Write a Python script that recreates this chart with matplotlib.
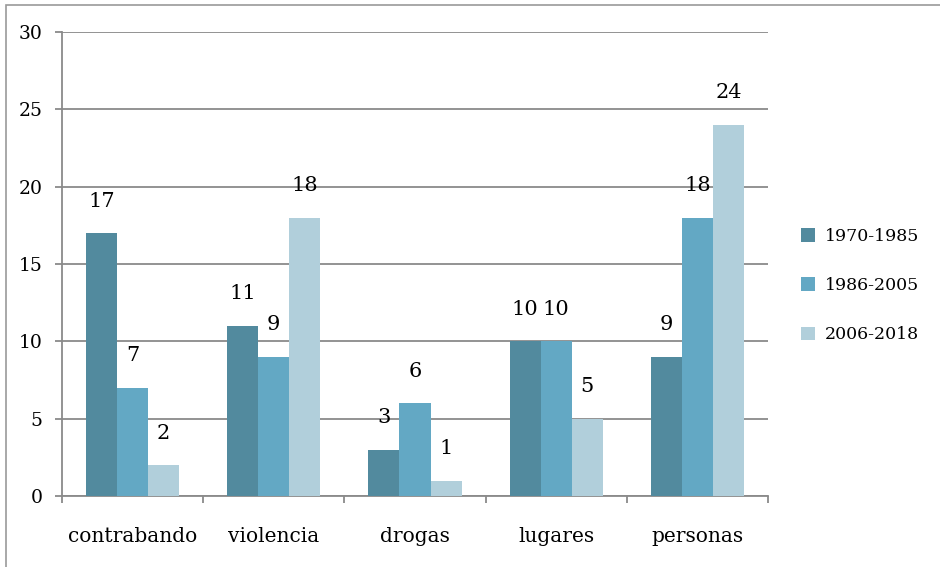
import matplotlib
matplotlib.use("Agg")
import matplotlib.pyplot as plt
from matplotlib.patches import Rectangle
import numpy as np

categories = ["contrabando", "violencia", "drogas", "lugares", "personas"]
series_names = ["1970-1985", "1986-2005", "2006-2018"]
s1970 = [17, 11, 3, 10, 9]
s1986 = [7, 9, 6, 10, 18]
s2006 = [2, 18, 1, 5, 24]
yticks = [0, 5, 10, 15, 20, 25, 30]

colors = ["#528A9E", "#63A8C4", "#B1CFDB"]
grid_c = "#8A8A8A"
FONT = "DejaVu Serif"

plt.rcParams["font.family"] = FONT

fig = plt.figure(figsize=(9.4, 5.67), dpi=100)
ax = fig.add_axes([62/940, 1-496/567, (768-62)/940, (496-32)/567])

x = np.arange(len(categories)) + 0.5
w = 0.22
series = [s1970, s1986, s2006]
for k, (vals, name, c) in enumerate(zip(series, series_names, colors)):
    pos = x + (k-1)*w
    ax.bar(pos, vals, width=w, color=c, label=name, zorder=3)
    for xi, v in zip(pos, vals):
        ax.annotate(str(v), (xi, v), xytext=(0, 23), textcoords="offset points",
                    ha="center", va="center", fontsize=15, color="black", zorder=4)

ax.set_xlim(0, len(categories))
ax.set_ylim(0, 30)
ax.set_yticks(yticks)
ax.yaxis.grid(True, color=grid_c, linewidth=1.3, zorder=0)
ax.set_axisbelow(True)
ax.set_xticks(np.arange(len(categories)+1))
ax.set_xticklabels([])
ax.set_xticks(x, minor=True)
ax.set_xticklabels(categories, minor=True, fontsize=14.5)
ax.tick_params(axis="x", which="minor", length=0, pad=22)
ax.tick_params(axis="x", which="major", length=5, width=1.3, color=grid_c, direction="out")
ax.tick_params(axis="y", length=5, width=1.3, color=grid_c, labelsize=13.5, pad=9)
for sp in ["top", "right"]:
    ax.spines[sp].set_visible(False)
for sp in ["left", "bottom"]:
    ax.spines[sp].set_color(grid_c)
    ax.spines[sp].set_linewidth(1.3)

fig.legend(loc="upper left", bbox_to_anchor=(801/940, 1-228/567), frameon=False,
           fontsize=12.5, handlelength=0.8, handleheight=0.8, handletextpad=0.6,
           labelspacing=1.85, borderpad=0, borderaxespad=0)

fig.patches.append(Rectangle((6/940, -0.1), 2.0, 1-5/567+0.1, transform=fig.transFigure,
                             fill=False, edgecolor="#9A9A9A", linewidth=1.2))

fig.savefig("out.png", dpi=100)
